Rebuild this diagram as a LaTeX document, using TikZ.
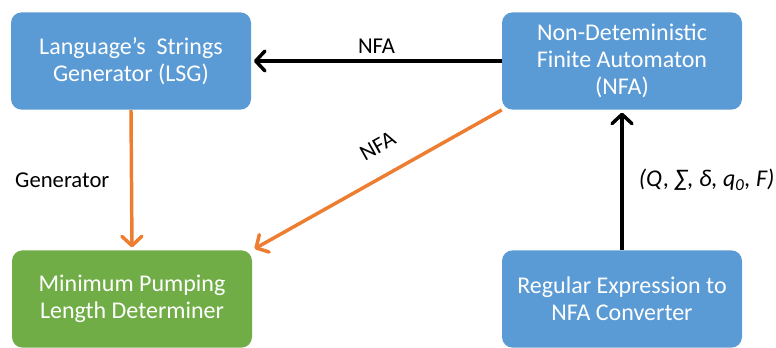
\documentclass[tikz,border=0pt]{standalone}
\usepackage{fontspec}
\setmainfont{Carlito}
\usepackage{tikz}
\usetikzlibrary{arrows.meta}

\definecolor{boxblue}{HTML}{5B9BD5}
\definecolor{boxgreen}{HTML}{70AD47}
\definecolor{linkorange}{HTML}{ED7D31}

\tikzset{
  block/.style={rectangle, rounded corners=8pt, fill=#1, text=white, align=center,
    minimum width=180pt, minimum height=73pt, font=\fontsize{18}{20.5}\selectfont},
  block/.default=boxblue,
  link/.style={line width=2.6pt, draw=#1, shorten >=2pt,
    -{Straight Barb[length=7pt,width=15pt,line cap=round,line join=round]}},
  link/.default=black,
  lbl/.style={font=\fontsize{17}{19}\selectfont}
}

\begin{document}
\begin{tikzpicture}[x=0.75pt,y=-0.75pt]
\useasboundingbox (0,0) rectangle (776,348);
\node[block] (lsg) at (131,61) {Language’s\ \ Strings\\Generator (LSG)};
\node[block] (nfa) at (622,61) {Non-Deteministic\\Finite Automaton\\(NFA)};
\node[block=boxgreen] (mpl) at (132,299) {Minimum Pumping\\Length Determiner};
\node[block] (re) at (622,299) {Regular Expression to\\NFA Converter};
\draw[link] (nfa.west) -- (lsg.east) node[lbl, midway, above=1pt] {NFA};
\draw[link=linkorange] (lsg.south) -- (mpl.north) node[lbl, midway, left=12pt] {Generator};
\draw[link=linkorange] (nfa.south west) -- (mpl.north east) node[lbl, pos=0.44, sloped, above=12pt] {NFA};
\draw[link] (re.north) -- (nfa.south) node[lbl, midway, right=8pt, font=\fontsize{18}{20}\selectfont] {\textit{(Q, ∑, δ, q\textsubscript{0}, F)}};
\end{tikzpicture}
\end{document}
